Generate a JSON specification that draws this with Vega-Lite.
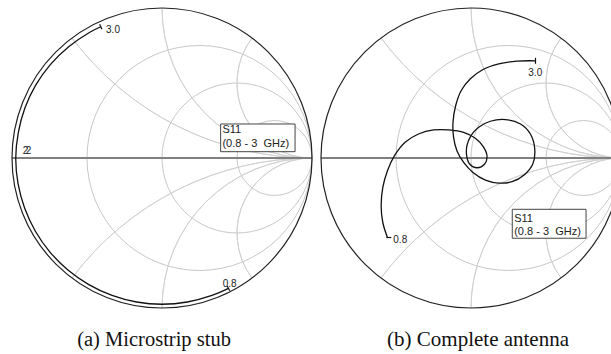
{
  "$schema": "https://vega.github.io/schema/vega-lite/v6.json",
  "padding": 0,
  "spacing": 0,
  "background": "white",
  "config": {"view": {"stroke": null}, "text": {"font": "Liberation Sans"}},
  "datasets": {
    "rcirc": [
      {"x": 0.25, "y": 0, "r": 0.75, "t0": 0, "t1": 6.3},
      {"x": 0.5, "y": 0, "r": 0.5, "t0": 0, "t1": 6.3},
      {"x": 0.75, "y": 0, "r": 0.25, "t0": 0, "t1": 6.3}
    ],
    "xarc": [
      {"x": 1, "y": 2, "r": 2, "t0": 3.141593, "t1": 4.068888},
      {"x": 1, "y": -2, "r": 2, "t0": 5.355890, "t1": 6.283185},
      {"x": 1, "y": 1, "r": 1, "t0": 3.141593, "t1": 4.712389},
      {"x": 1, "y": -1, "r": 1, "t0": 4.712389, "t1": 6.283185},
      {"x": 1, "y": 0.5, "r": 0.5, "t0": 3.141593, "t1": 5.355890},
      {"x": 1, "y": -0.5, "r": 0.5, "t0": 4.068888, "t1": 6.283185}
    ],
    "unit": [{"x": 0, "y": 0, "r": 1, "t0": 0, "t1": 6.3}],
    "axisline": [{"x": -1, "x2": 1, "y": 0}],
    "traceA": [
      {"i": 1, "x": 0.443, "y": -0.869},
      {"i": 2, "x": 0.333, "y": -0.916},
      {"i": 3, "x": 0.169, "y": -0.960},
      {"i": 4, "x": 0.0, "y": -0.975},
      {"i": 5, "x": -0.169, "y": -0.960},
      {"i": 6, "x": -0.333, "y": -0.916},
      {"i": 7, "x": -0.488, "y": -0.844},
      {"i": 8, "x": -0.627, "y": -0.747},
      {"i": 9, "x": -0.747, "y": -0.627},
      {"i": 10, "x": -0.844, "y": -0.488},
      {"i": 11, "x": -0.916, "y": -0.333},
      {"i": 12, "x": -0.960, "y": -0.169},
      {"i": 13, "x": -0.975, "y": 0.0},
      {"i": 14, "x": -0.958, "y": 0.169},
      {"i": 15, "x": -0.914, "y": 0.333},
      {"i": 16, "x": -0.842, "y": 0.486},
      {"i": 17, "x": -0.743, "y": 0.624},
      {"i": 18, "x": -0.622, "y": 0.742},
      {"i": 19, "x": -0.484, "y": 0.837},
      {"i": 20, "x": -0.408, "y": 0.875}
    ],
    "traceB": [
      {"i": 1, "x": -0.557, "y": -0.530},
      {"i": 2, "x": -0.588, "y": -0.430},
      {"i": 3, "x": -0.599, "y": -0.318},
      {"i": 4, "x": -0.588, "y": -0.196},
      {"i": 5, "x": -0.557, "y": -0.085},
      {"i": 6, "x": -0.510, "y": 0.016},
      {"i": 7, "x": -0.439, "y": 0.105},
      {"i": 8, "x": -0.350, "y": 0.160},
      {"i": 9, "x": -0.249, "y": 0.187},
      {"i": 10, "x": -0.149, "y": 0.187},
      {"i": 11, "x": -0.049, "y": 0.171},
      {"i": 12, "x": 0.029, "y": 0.131},
      {"i": 13, "x": 0.085, "y": 0.071},
      {"i": 14, "x": 0.107, "y": 0.011},
      {"i": 15, "x": 0.091, "y": -0.040},
      {"i": 16, "x": 0.040, "y": -0.065},
      {"i": 17, "x": -0.009, "y": -0.040},
      {"i": 18, "x": -0.029, "y": 0.016},
      {"i": 19, "x": -0.027, "y": 0.082},
      {"i": 20, "x": 0.0, "y": 0.149},
      {"i": 21, "x": 0.051, "y": 0.205},
      {"i": 22, "x": 0.129, "y": 0.245},
      {"i": 23, "x": 0.229, "y": 0.256},
      {"i": 24, "x": 0.330, "y": 0.227},
      {"i": 25, "x": 0.396, "y": 0.160},
      {"i": 26, "x": 0.425, "y": 0.060},
      {"i": 27, "x": 0.412, "y": -0.040},
      {"i": 28, "x": 0.356, "y": -0.111},
      {"i": 29, "x": 0.274, "y": -0.158},
      {"i": 30, "x": 0.185, "y": -0.167},
      {"i": 31, "x": 0.096, "y": -0.147},
      {"i": 32, "x": 0.013, "y": -0.096},
      {"i": 33, "x": -0.049, "y": -0.029},
      {"i": 34, "x": -0.094, "y": 0.049},
      {"i": 35, "x": -0.116, "y": 0.138},
      {"i": 36, "x": -0.120, "y": 0.238},
      {"i": 37, "x": -0.102, "y": 0.350},
      {"i": 38, "x": -0.065, "y": 0.450},
      {"i": 39, "x": -0.004, "y": 0.528},
      {"i": 40, "x": 0.080, "y": 0.590},
      {"i": 41, "x": 0.185, "y": 0.628},
      {"i": 42, "x": 0.307, "y": 0.646},
      {"i": 43, "x": 0.430, "y": 0.648}
    ]
  },
  "hconcat": [
    {
      "width": 316,
      "height": 354,
      "encoding": {
        "x": {"field": "x", "type": "quantitative", "scale": {"domain": [-1.08, 1.02667], "nice": false, "zero": false}, "axis": null},
        "y": {"field": "y", "type": "quantitative", "scale": {"domain": [-1.30667, 1.05333], "nice": false, "zero": false}, "axis": null}
      },
      "layer": [
        {"data": {"name": "rcirc"}, "mark": {"type": "arc", "filled": false, "stroke": "#c8c8c8", "strokeWidth": 1},
         "encoding": {"theta": {"field": "t0", "type": "quantitative", "stack": null, "scale": {"type": "linear", "domain": [0, 6.283185], "range": [0, 6.283185]}}, "theta2": {"field": "t1"},
                      "radius": {"field": "r", "type": "quantitative", "scale": {"type": "linear", "domain": [0, 1], "range": [0, 150], "zero": true}}}},
        {"data": {"name": "xarc"}, "mark": {"type": "arc", "filled": false, "stroke": "#cfcfcf", "strokeWidth": 0.9},
         "encoding": {"theta": {"field": "t0", "type": "quantitative", "stack": null, "scale": {"type": "linear", "domain": [0, 6.283185], "range": [0, 6.283185]}}, "theta2": {"field": "t1"},
                      "radius": {"field": "r", "type": "quantitative", "scale": {"type": "linear", "domain": [0, 1], "range": [0, 150], "zero": true}}, "radius2": {"field": "r"}}},
        {"data": {"name": "axisline"}, "mark": {"type": "rule", "color": "#808080", "strokeWidth": 1.8}, "encoding": {"x2": {"field": "x2"}}},
        {"data": {"name": "unit"}, "mark": {"type": "arc", "filled": false, "stroke": "#222222", "strokeWidth": 1.2},
         "encoding": {"theta": {"field": "t0", "type": "quantitative", "stack": null, "scale": {"type": "linear", "domain": [0, 6.283185], "range": [0, 6.283185]}}, "theta2": {"field": "t1"},
                      "radius": {"field": "r", "type": "quantitative", "scale": {"type": "linear", "domain": [0, 1], "range": [0, 150], "zero": true}}}},
        {"data": {"name": "traceA"}, "mark": {"type": "line", "interpolate": "catmull-rom", "color": "#111111", "strokeWidth": 1.3},
         "encoding": {"order": {"field": "i", "type": "quantitative"}}},
        {"data": {"values": [{"x": -0.408, "y": 0.875}]}, "mark": {"type": "point", "shape": "stroke", "angle": 65, "size": 30, "filled": false, "color": "#111111", "strokeWidth": 1.2, "opacity": 1}},
        {"data": {"values": [{"x": 0.443, "y": -0.869}]}, "mark": {"type": "point", "shape": "stroke", "angle": 63, "size": 30, "filled": false, "color": "#111111", "strokeWidth": 1.2, "opacity": 1}},
        {"data": {"values": [
            {"x": -0.373, "y": 0.833, "text": "3.0"},
            {"x": 0.405, "y": -0.858, "text": "0.8"},
            {"x": -0.929, "y": 0.027, "text": "2"},
            {"x": -0.909, "y": 0.027, "text": "2"}
          ]},
         "mark": {"type": "text", "align": "left", "baseline": "alphabetic", "fontSize": 10, "color": "#222222"},
         "encoding": {"text": {"field": "text"}}},
        {"data": {"values": [{"x": 0.391, "x2": 0.887, "y": 0.2267, "y2": 0.042}]},
         "mark": {"type": "rect", "fill": "white", "stroke": "#444444", "strokeWidth": 1},
         "encoding": {"x2": {"field": "x2"}, "y2": {"field": "y2"}}},
        {"data": {"values": [
            {"x": 0.403, "y": 0.165, "text": "S11"},
            {"x": 0.403, "y": 0.0747, "text": "(0.8 - 3 \u00a0GHz)"}
          ]},
         "mark": {"type": "text", "align": "left", "baseline": "alphabetic", "fontSize": 11, "color": "#222222"},
         "encoding": {"text": {"field": "text"}}},
        {"data": {"values": [{"x": -0.053, "y": -1.251, "text": "(a)  Microstrip stub"}]},
         "mark": {"type": "text", "align": "center", "baseline": "alphabetic", "fontSize": 20.5, "font": "Liberation Serif", "color": "#111111"},
         "encoding": {"text": {"field": "text"}}}
      ]
    },
    {
      "width": 295,
      "height": 354,
      "encoding": {
        "x": {"field": "x", "type": "quantitative", "scale": {"domain": [-1.03333, 0.93333], "nice": false, "zero": false}, "axis": null},
        "y": {"field": "y", "type": "quantitative", "scale": {"domain": [-1.30667, 1.05333], "nice": false, "zero": false}, "axis": null}
      },
      "layer": [
        {"data": {"name": "rcirc"}, "mark": {"type": "arc", "filled": false, "stroke": "#c8c8c8", "strokeWidth": 1, "clip": true},
         "encoding": {"theta": {"field": "t0", "type": "quantitative", "stack": null, "scale": {"type": "linear", "domain": [0, 6.283185], "range": [0, 6.283185]}}, "theta2": {"field": "t1"},
                      "radius": {"field": "r", "type": "quantitative", "scale": {"type": "linear", "domain": [0, 1], "range": [0, 150], "zero": true}}}},
        {"data": {"name": "xarc"}, "mark": {"type": "arc", "filled": false, "stroke": "#cfcfcf", "strokeWidth": 0.9, "clip": true},
         "encoding": {"theta": {"field": "t0", "type": "quantitative", "stack": null, "scale": {"type": "linear", "domain": [0, 6.283185], "range": [0, 6.283185]}}, "theta2": {"field": "t1"},
                      "radius": {"field": "r", "type": "quantitative", "scale": {"type": "linear", "domain": [0, 1], "range": [0, 150], "zero": true}}, "radius2": {"field": "r"}}},
        {"data": {"name": "axisline"}, "mark": {"type": "rule", "color": "#808080", "strokeWidth": 1.8, "clip": true}, "encoding": {"x2": {"field": "x2"}}},
        {"data": {"name": "unit"}, "mark": {"type": "arc", "filled": false, "stroke": "#222222", "strokeWidth": 1.2, "clip": true},
         "encoding": {"theta": {"field": "t0", "type": "quantitative", "stack": null, "scale": {"type": "linear", "domain": [0, 6.283185], "range": [0, 6.283185]}}, "theta2": {"field": "t1"},
                      "radius": {"field": "r", "type": "quantitative", "scale": {"type": "linear", "domain": [0, 1], "range": [0, 150], "zero": true}}}},
        {"data": {"name": "traceB"}, "mark": {"type": "line", "interpolate": "catmull-rom", "color": "#111111", "strokeWidth": 1.3},
         "encoding": {"order": {"field": "i", "type": "quantitative"}}},
        {"data": {"values": [{"x": 0.430, "y": 0.648}]}, "mark": {"type": "point", "shape": "stroke", "angle": 90, "size": 36, "filled": false, "color": "#111111", "strokeWidth": 1.2, "opacity": 1}},
        {"data": {"values": [{"x": -0.548, "y": -0.530}]}, "mark": {"type": "point", "shape": "stroke", "angle": 0, "size": 25, "filled": false, "color": "#111111", "strokeWidth": 1.2, "opacity": 1}},
        {"data": {"values": [
            {"x": 0.382, "y": 0.547, "text": "3.0"},
            {"x": -0.518, "y": -0.565, "text": "0.8"}
          ]},
         "mark": {"type": "text", "align": "left", "baseline": "alphabetic", "fontSize": 10, "color": "#222222"},
         "encoding": {"text": {"field": "text"}}},
        {"data": {"values": [{"x": 0.275, "x2": 0.767, "y": -0.342, "y2": -0.535}]},
         "mark": {"type": "rect", "fill": "white", "stroke": "#444444", "strokeWidth": 1},
         "encoding": {"x2": {"field": "x2"}, "y2": {"field": "y2"}}},
        {"data": {"values": [
            {"x": 0.288, "y": -0.425, "text": "S11"},
            {"x": 0.288, "y": -0.513, "text": "(0.8 - 3 \u00a0GHz)"}
          ]},
         "mark": {"type": "text", "align": "left", "baseline": "alphabetic", "fontSize": 11, "color": "#222222"},
         "encoding": {"text": {"field": "text"}}},
        {"data": {"values": [{"x": 0.047, "y": -1.251, "text": "(b)  Complete antenna"}]},
         "mark": {"type": "text", "align": "center", "baseline": "alphabetic", "fontSize": 21, "font": "Liberation Serif", "color": "#111111"},
         "encoding": {"text": {"field": "text"}}}
      ]
    }
  ]
}
